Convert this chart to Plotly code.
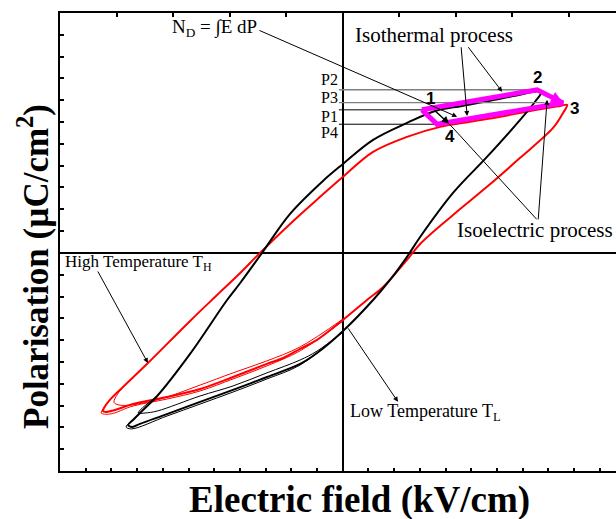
import plotly.graph_objects as go

# ---------------- data (E in kV/cm, P in uC/cm^2) ----------------
# Low temperature T_L loop: field-decreasing branch, then field-increasing branch
tl_down_E = [77.2, 67.0, 57.3, 46.4, 35.9, 25.0, 11.8, 0.1, -7.7, -20.5, -31.4, -39.9, -45.0, -59.4, -72.2, -77.7, -81.6, -83.5]
tl_down_P = [73.9, 72.0, 69.7, 67.4, 65.1, 59.6, 51.8, 40.8, 33.0, 17.9, 0.0, -13.8, -21.6, -46.3, -65.6, -72.0, -76.6, -78.9]
tl_up_E = [-83.5, -81.9, -78.9, -68.4, -55.5, -42.7, -29.5, -16.6, -10.0, 0.1, 11.8, 18.4, 25.0, 30.1, 42.9, 56.1, 69.0, 74.8, 77.2]
tl_up_P = [-78.9, -79.8, -78.4, -73.9, -68.3, -62.8, -56.9, -50.9, -45.9, -35.8, -21.6, -12.4, -1.8, 7.3, 27.5, 44.0, 61.0, 69.3, 73.9]
# inner and second outer cycles of T_L (negative-field end)
tl_inner_E = [-72.2, -79.6, -76.9, -72.2, -55.5, -42.7, -29.5, -16.6, -10.0, 0.1]
tl_inner_P = [-65.6, -73.4, -73.4, -72.5, -65.6, -61.0, -55.0, -49.1, -45.0, -36.2]
tl_outer2_E = [-81.6, -84.3, -82.3, -68.4, -55.5, -42.7, -29.5, -16.6, 0.1]
tl_outer2_P = [-76.6, -79.8, -80.7, -74.8, -69.3, -63.8, -57.8, -51.4, -36.2]

# High temperature T_H loop
th_down_E = [87.3, 84.6, 72.9, 61.2, 49.5, 37.9, 25.0, 11.8, 0.1, -8.8, -20.5, -32.2, -39.9, -48.9, -59.4, -75.8, -85.5, -90.6, -92.9, -93.3]
th_down_P = [67.9, 67.4, 65.1, 62.4, 60.1, 57.8, 53.2, 46.3, 34.9, 25.7, 13.3, 0.0, -9.2, -19.3, -31.2, -50.5, -61.5, -67.4, -71.1, -72.5]
th_up_E = [-93.3, -92.1, -88.6, -81.6, -68.4, -55.5, -42.7, -29.5, -23.2, -16.6, -10.0, 0.1, 9.4, 15.7, 25.0, 30.1, 42.9, 56.1, 69.0, 81.8, 85.7, 87.3]
th_up_P = [-72.5, -72.9, -72.0, -69.3, -66.1, -62.4, -56.9, -50.9, -48.2, -44.0, -39.9, -30.7, -21.6, -15.6, -3.2, 4.1, 17.4, 30.3, 43.6, 57.3, 64.2, 67.9]
th_inner_E = [-85.5, -89.0, -86.0, -72.2, -55.5, -42.7, -29.5, -16.6, 0.1]
th_inner_P = [-61.5, -68.5, -69.9, -67.4, -60.6, -55.0, -49.5, -43.1, -30.3]
th_outer2_E = [-92.9, -94.0, -90.6, -81.6, -68.4, -55.5, -42.7, -29.5, -16.6, 0.1]
th_outer2_P = [-71.1, -73.4, -73.9, -70.2, -67.0, -63.3, -57.8, -51.8, -44.9, -31.2]

# Thermodynamic cycle corners 1-2-3-4
cycle_labels = ["1", "2", "3", "4"]
cycle_E = [30.8, 75.6, 85.7, 36.7]
cycle_P = [65.6, 74.8, 68.8, 59.0]

# Polarisation levels marked on the axis
level_names = ["P2", "P3", "P1", "P4"]
level_P = [74.8, 68.9, 65.6, 59.0]
level_end_E = [75.6, 78.5, 30.8, 36.7]
level_colors = ["#7f7f7f", "#7f7f7f", "black", "black"]

SERIF = "Liberation Serif"
SANS = "Liberation Sans"

fig = go.Figure()


def loop(xs, ys, color, width):
    fig.add_trace(go.Scatter(x=xs, y=ys, mode="lines", line=dict(color=color, width=width, shape="spline", smoothing=1.0),
                             hoverinfo="skip", showlegend=False))


# hysteresis loops
loop(th_inner_E, th_inner_P, "red", 1)
loop(th_outer2_E, th_outer2_P, "red", 1)
loop(th_down_E + th_up_E[1:], th_down_P + th_up_P[1:], "red", 2)
loop(tl_inner_E, tl_inner_P, "black", 1)
loop(tl_outer2_E, tl_outer2_P, "black", 1)
loop(tl_down_E + tl_up_E[1:], tl_down_P + tl_up_P[1:], "black", 2)

# polarisation level lines
for name, p, e_end, col in zip(level_names, level_P, level_end_E, level_colors):
    fig.add_trace(go.Scatter(x=[-1.5, e_end], y=[p, p], mode="lines",
                             line=dict(color=col, width=1.3 if col != "black" else 1),
                             hoverinfo="skip", showlegend=False))

# cycle 1 -> 2 -> 3 -> 4 -> 1
fig.add_trace(go.Scatter(x=[cycle_E[0], cycle_E[1], cycle_E[2], cycle_E[3], cycle_E[0]],
                         y=[cycle_P[0], cycle_P[1], cycle_P[2], cycle_P[3], cycle_P[0]],
                         mode="lines", line=dict(color="#ff00ff", width=5),
                         hoverinfo="skip", showlegend=False))

# trace on the top axis so that it is drawn
fig.add_trace(go.Scatter(x=[0], y=[0], xaxis="x2", mode="markers", marker=dict(opacity=0),
                         hoverinfo="skip", showlegend=False))

ann = []


def arrow(tail, tip, head=2, color="black", width=1, size=1.0):
    ann.append(dict(x=tip[0], y=tip[1], ax=tail[0], ay=tail[1], xref="x", yref="y", axref="x", ayref="y",
                    text="", showarrow=True, arrowhead=head, arrowsize=size, arrowwidth=width,
                    arrowcolor=color, standoff=0, startstandoff=0))


# isoelectric 2 -> 3 arrowhead
arrow((cycle_E[1], cycle_P[1]), (cycle_E[2], cycle_P[2]), head=2, color="#ff00ff", width=3, size=0.8)

arrow((-33.0, 102.3), (44.5, 62.4))           # N_D
arrow((46.0, 95.0), (48.4, 62.8))             # isothermal
arrow((48.4, 95.0), (62.0, 73.9))             # isothermal
arrow((76.0, 14.7), (79.5, 70.2))             # isoelectric
arrow((76.0, 14.7), (41.4, 59.2), head=0)     # isoelectric
arrow((35.5, 65.6), (41.4, 59.2), width=1.5)  # 1 -> 4
arrow((-95.6, -7.8), (-75.8, -50.5))          # T_H
arrow((1.7, -33.9), (21.5, -68.3))            # T_L


def text(x, y, s, size, xanchor="center", family=SERIF):
    ann.append(dict(x=x, y=y, xref="x", yref="y", text=s, showarrow=False, xanchor=xanchor, yanchor="middle",
                    font=dict(family=family, size=size, color="black")))


# cycle corner numbers
num_pos = [(34.2, 70.6), (75.8, 80.5), (90.0, 66.0), (41.6, 53.2)]
for lab, (x, y) in zip(cycle_labels, num_pos):
    text(x, y, "<b>" + lab + "</b>", 17, family=SANS)

# level names
for name, y in zip(level_names, [79.4, 71.1, 62.4, 55.0]):
    text(-1.0, y, name, 16, xanchor="right")

text(-50.0, 103.0, "N<sub>D</sub> = \u222bE dP", 19)
text(35.5, 100.0, "Isothermal process", 21)
text(74.9, 10.5, "Isoelectric process", 21)
text(-109.0, -4.5, "High Temperature T<sub>H</sub>", 17, xanchor="left")
text(2.0, -73.0, "Low Temperature T<sub>L</sub>", 18, xanchor="left")

# axis titles (placed in pixels, converted to paper fractions below)
ann.append(dict(x=359, y=500, xref="paper", yref="paper", text="<b>Electric field (kV/cm)</b>", showarrow=False,
                xanchor="center", yanchor="middle", font=dict(family=SERIF, size=37, color="black")))
ann.append(dict(x=33, y=267, xref="paper", yref="paper", text="<b>Polarisation (\u00b5C/cm<sup>2</sup>)</b>",
                showarrow=False, textangle=-90, xanchor="center", yanchor="middle",
                font=dict(family=SERIF, size=35, color="black")))

W, H = 616, 519
L, R, T, B = 60, 0, 13, 48
for a in ann[-2:]:
    a["x"] = (a["x"] - L) / (W - L - R)
    a["y"] = (H - B - a["y"]) / (H - T - B)

x_range = [-110, 106.3]
axis_common = dict(showgrid=False, showticklabels=False, showline=True, linewidth=2, linecolor="black",
                   ticks="inside", tickcolor="black", tickwidth=1.5, mirror=False)

fig.update_layout(
    width=W, height=H,
    margin=dict(l=L, r=R, t=T, b=B, pad=0),
    paper_bgcolor="white", plot_bgcolor="white",
    showlegend=False,
    hovermode=False,
    font=dict(family=SERIF, color="black"),
    xaxis=dict(range=x_range, dtick=10, tick0=0, ticklen=3, zeroline=True, zerolinewidth=2,
               zerolinecolor="black", **axis_common),
    xaxis2=dict(range=x_range, overlaying="x", side="top", anchor="y", dtick=22, tick0=0, ticklen=4,
                zeroline=False, **axis_common),
    yaxis=dict(range=[-100, 110], dtick=10, tick0=0, ticklen=4, zeroline=True, zerolinewidth=2,
               zerolinecolor="black", **axis_common),
    annotations=ann,
)

fig.write_html("out.html")
